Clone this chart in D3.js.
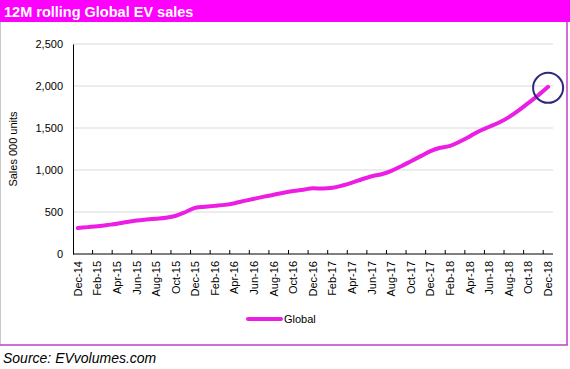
<!DOCTYPE html>
<html>
<head>
<meta charset="utf-8">
<script src="https://cdn.jsdelivr.net/npm/d3@7"></script>
<style>
  body { margin: 0; background: #fff; }
  svg { display: block; font-family: "Liberation Sans", Arial, sans-serif; }
</style>
</head>
<body>
<div id="chart"></div>
<script>
var months = ['Dec-14','Jan-15','Feb-15','Mar-15','Apr-15','May-15','Jun-15','Jul-15','Aug-15','Sep-15','Oct-15','Nov-15',
    'Dec-15','Jan-16','Feb-16','Mar-16','Apr-16','May-16','Jun-16','Jul-16','Aug-16','Sep-16','Oct-16','Nov-16',
    'Dec-16','Jan-17','Feb-17','Mar-17','Apr-17','May-17','Jun-17','Jul-17','Aug-17','Sep-17','Oct-17','Nov-17',
    'Dec-17','Jan-18','Feb-18','Mar-18','Apr-18','May-18','Jun-18','Jul-18','Aug-18','Sep-18','Oct-18','Nov-18',
    'Dec-18'];

// 12M rolling sales, 000 units
var globalSales = [310, 320, 330, 345, 360, 380, 398, 410, 420, 432, 455, 500,
    550, 562, 573, 585, 605, 632, 658, 683, 705, 730, 750, 765,
    782, 780, 788, 815, 850, 890, 925, 950, 990, 1045, 1105, 1165,
    1225, 1265, 1288, 1340, 1400, 1465, 1515, 1565, 1630, 1710, 1800, 1890,
    1990];

var yTicks = [0, 500, 1000, 1500, 2000, 2500];

var W = 570, H = 369;
var pink = '#ff00ff', lineCol = '#ec1ee4';

var svg = d3.select('#chart').append('svg')
    .attr('width', W)
    .attr('height', H);

// frame + title bar
svg.append('rect').attr('x', 0).attr('y', 0).attr('width', W).attr('height', 22).attr('fill', pink);
svg.append('line').attr('x1', 0.5).attr('x2', 0.5).attr('y1', 22).attr('y2', 345).attr('stroke', '#c8c8c8');
svg.append('line').attr('x1', 567).attr('x2', 567).attr('y1', 22).attr('y2', 345).attr('stroke', '#c03cc8').attr('stroke-width', 1.5);
svg.append('line').attr('x1', 0).attr('x2', 567.7).attr('y1', 345).attr('y2', 345).attr('stroke', '#c03cc8').attr('stroke-width', 1.5);

svg.append('text')
    .attr('x', 4).attr('y', 17)
    .attr('fill', '#fff')
    .attr('font-size', '14.5px')
    .attr('font-weight', 'bold')
    .text('12M rolling Global EV sales');

var x = d3.scaleBand().domain(months).range([73, 553]).padding(0);
var y = d3.scaleLinear().domain([0, 2500]).range([254, 44]);

// gridlines
svg.append('g')
    .selectAll('line')
    .data(yTicks.slice(1))
    .enter()
    .append('line')
      .attr('x1', 73).attr('x2', 553)
      .attr('y1', function(d) { return y(d); })
      .attr('y2', function(d) { return y(d); })
      .attr('stroke', '#d9d9d9');

// y axis
var yAxis = d3.axisLeft(y).tickValues(yTicks).tickSize(0).tickPadding(10).tickFormat(d3.format(','));
var gy = svg.append('g').attr('transform', 'translate(73,0)').call(yAxis);
gy.select('.domain').attr('stroke', '#000');
gy.selectAll('text').attr('font-size', '11px').attr('fill', '#000').attr('font-family', null);

svg.append('text')
    .attr('transform', 'translate(17,149) rotate(-90)')
    .attr('text-anchor', 'middle')
    .attr('font-size', '11px')
    .text('Sales 000 units');

// x axis: labels on every other month, tick marks between category pairs
var xAxis = d3.axisBottom(x)
    .tickValues(months.filter(function(d, i) { return i % 2 === 0; }))
    .tickSize(0).tickPadding(0);
var gx = svg.append('g').attr('transform', 'translate(0,254)').call(xAxis);
gx.select('.domain').remove();
gx.selectAll('text')
    .attr('font-size', '11px')
    .attr('fill', '#000')
    .attr('font-family', null)
    .attr('transform', 'rotate(-90)')
    .attr('text-anchor', 'end')
    .attr('dy', '0.35em')
    .attr('x', -7)
    .attr('y', 0);

svg.append('line').attr('x1', 73).attr('x2', 553).attr('y1', 254).attr('y2', 254).attr('stroke', '#000');
svg.append('g')
    .selectAll('line')
    .data(months.filter(function(d, i) { return i % 2 === 1 && i < months.length - 1; }))
    .enter()
    .append('line')
      .attr('x1', function(d) { return x(d) + x.bandwidth(); })
      .attr('x2', function(d) { return x(d) + x.bandwidth(); })
      .attr('y1', 254).attr('y2', 250)
      .attr('stroke', '#000');

// series line
var line = d3.line()
    .x(function(d, i) { return x(months[i]) + x.bandwidth() / 2; })
    .y(function(d) { return y(d); })
    .curve(d3.curveMonotoneX);

svg.append('path')
    .datum(globalSales)
    .attr('d', line)
    .attr('fill', 'none')
    .attr('stroke', lineCol)
    .attr('stroke-width', 4)
    .attr('stroke-linecap', 'round');

// highlight circle on the last point
var last = months.length - 1;
svg.append('circle')
    .attr('cx', x(months[last]) + x.bandwidth() / 2)
    .attr('cy', y(globalSales[last]) + 1)
    .attr('r', 15)
    .attr('fill', 'none')
    .attr('stroke', '#2f2a78')
    .attr('stroke-width', 2);

// legend
svg.append('line').attr('x1', 248).attr('x2', 281).attr('y1', 319).attr('y2', 319)
    .attr('stroke', lineCol).attr('stroke-width', 4).attr('stroke-linecap', 'round');
svg.append('text').attr('x', 284).attr('y', 323).attr('font-size', '11px').text('Global');

// source
svg.append('text')
    .attr('x', 3).attr('y', 363)
    .attr('font-size', '14px')
    .attr('font-style', 'italic')
    .text('Source: EVvolumes.com');
</script>
</body>
</html>
